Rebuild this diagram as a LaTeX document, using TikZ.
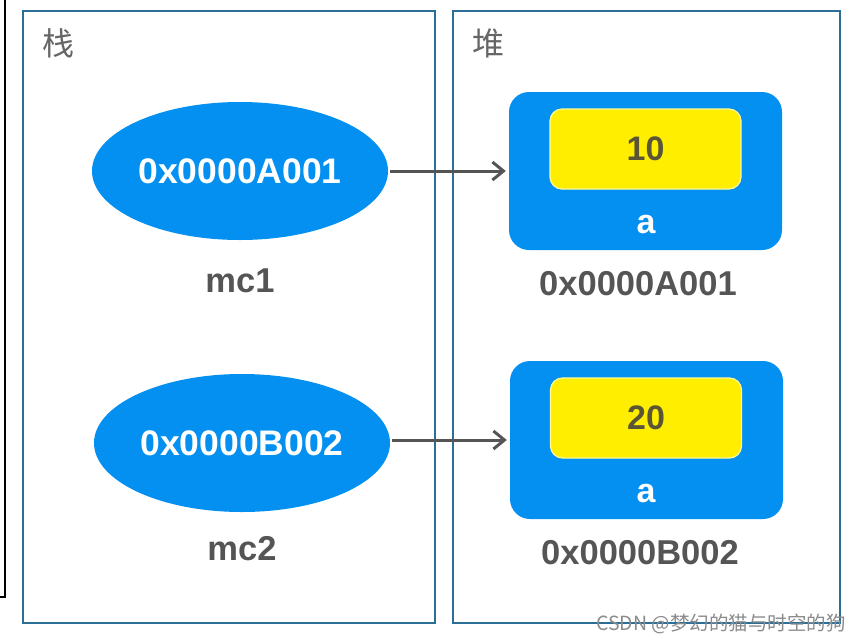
\documentclass[tikz,border=0pt]{standalone}
\usepackage{fontspec}
\setmainfont{Liberation Sans}
\newfontfamily\cjk{Noto Sans CJK SC}
\usetikzlibrary{shapes.geometric,arrows.meta}
\definecolor{panelc}{HTML}{2B6F96}
\definecolor{bluef}{HTML}{0490F0}
\definecolor{yel}{HTML}{FFEE00}
\definecolor{txtg}{HTML}{555555}
\definecolor{numc}{HTML}{5A5535}
\begin{document}
\begin{tikzpicture}[x=1pt,y=-1pt,
  panel/.style={draw=panelc,line width=2pt},
  ptitle/.style={font=\cjk\fontsize{32}{32}\selectfont,text=black!60,inner sep=0pt},
  ell/.style={ellipse,fill=bluef,draw=none,minimum width=296pt,minimum height=138pt,inner sep=0pt,text=white,font=\bfseries\fontsize{35.5}{35.5}\selectfont},
  lbl/.style={text=txtg,font=\bfseries\fontsize{34.5}{34.5}\selectfont,inner sep=0pt},
  heap/.style={rectangle,rounded corners=20pt,fill=bluef,draw=none,minimum width=273pt,minimum height=158pt,inner sep=0pt},
  val/.style={rectangle,rounded corners=12pt,fill=yel,draw=yellow!40!white,line width=1.2pt,minimum width=191pt,minimum height=80pt,inner sep=0pt,text=numc,font=\bfseries\fontsize{34}{34}\selectfont},
  var/.style={text=white,font=\bfseries\fontsize{34}{34}\selectfont,inner sep=0pt},
  ptr/.style={draw=txtg,line width=3pt,-{Straight Barb[length=11pt,width=18pt,line width=3pt]}}
]
\useasboundingbox (0,0) rectangle (864,643);
\fill[white] (0,0) rectangle (864,643);
% cut-off outer frame
\draw[black,line width=2pt] (5,0) -- (5,597) -- (0,597);
% panels
\node[panel,minimum width=412pt,minimum height=612pt,inner sep=0pt] (stack) at (229,317) {};
\node[panel,minimum width=387pt,minimum height=612pt,inner sep=0pt] (heapp) at (646.5,317) {};
\node[ptitle] (t1) at (58,43) {栈};
\node[ptitle] (t2) at (488,43) {堆};
% stack
\node[ell] (e1) at (240,171) {0x0000A001};
\node[lbl] (m1) at (240,281) {mc1};
\node[ell] (e2) at (242,443) {0x0000B002};
\node[lbl] (m2) at (242,549) {mc2};
% heap objects
\node[heap] (h1) at (645.5,171) {};
\node[val] (v1) at (645.5,149) {10};
\node[var] (a1) at (646,225) {a};
\node[lbl] (ad1) at (638,284) {0x0000A001};
\node[heap] (h2) at (646.5,440) {};
\node[val] (v2) at (646,418) {20};
\node[var] (a2) at (646,494) {a};
\node[lbl] (ad2) at (640,553) {0x0000B002};
% pointers
\draw[ptr,shorten <=2pt,shorten >=3pt] (e1.east) -- (h1.west);
\coordinate (s2) at (e2.east |- h2.west);
\draw[ptr,shorten <=2pt,shorten >=3pt] (s2) -- (h2.west);
% watermark
\node[text=black!45,font=\cjk\fontsize{19.5}{19.5}\selectfont,inner sep=0pt,anchor=east] (wm) at (846,624) {CSDN @梦幻的猫与时空的狗};
\end{tikzpicture}
\end{document}
